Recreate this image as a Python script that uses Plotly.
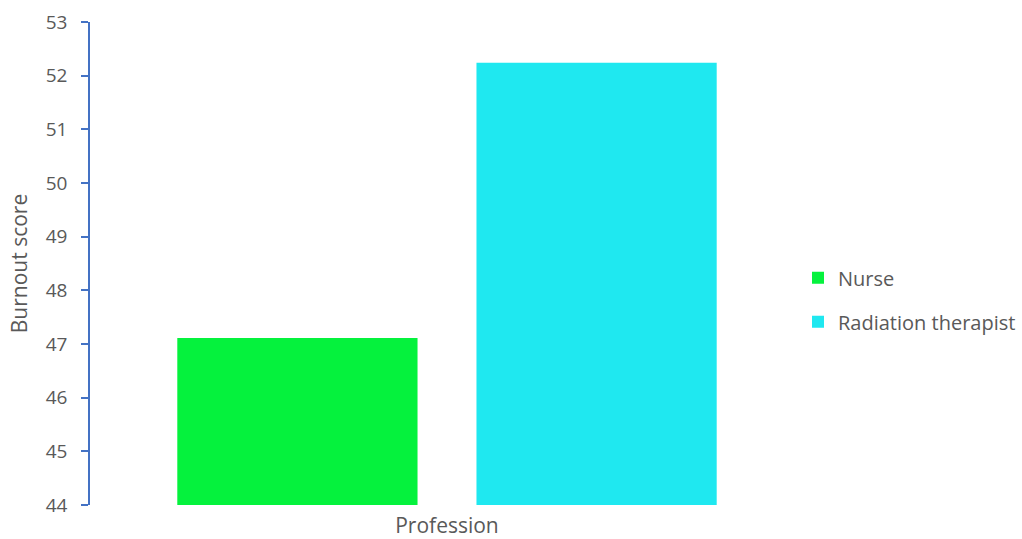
import plotly.graph_objects as go

# Burnout score by profession
category = ["Profession"]
professions = ["Nurse", "Radiation therapist"]
scores = [47.11, 52.24]
colors = ["#05F23D", "#1FE8F0"]

y_ticks = list(range(44, 54))

fig = go.Figure()
for name, val, col in zip(professions, scores, colors):
    fig.add_trace(go.Bar(
        x=category,
        y=[val],
        name=name,
        marker=dict(color=col, line=dict(width=0)),
        legendgroup=name,
    ))

text_color = "#595959"
axis_color = "#4472C4"
font_family = "Open Sans, Lato, sans-serif"

fig.update_layout(
    width=1022,
    height=539,
    paper_bgcolor="white",
    plot_bgcolor="white",
    barmode="group",
    bargap=0.162,
    bargroupgap=0.197,
    margin=dict(l=90, r=218, t=22, b=34, autoexpand=False),
    font=dict(family=font_family, color=text_color, size=20),
    showlegend=True,
    legend=dict(
        x=0.9916, xanchor="left",
        y=0.425, yanchor="middle",
        font=dict(size=20, color=text_color),
        tracegroupgap=15,
        itemwidth=30,
        bgcolor="rgba(0,0,0,0)",
    ),
    xaxis=dict(
        showline=False,
        showticklabels=False,
        ticks="",
        showgrid=False,
        title=dict(text="Profession", standoff=14, font=dict(size=21)),
    ),
    yaxis=dict(
        range=[44, 53],
        tickvals=y_ticks,
        showgrid=False,
        zeroline=False,
        showline=True,
        linecolor=axis_color,
        linewidth=1.5,
        ticks="outside",
        ticklen=7,
        tickcolor=axis_color,
        tickwidth=1.5,
        tickfont=dict(size=19),
        ticklabelstandoff=10,
        title=dict(text="Burnout score", standoff=12, font=dict(size=21)),
    ),
)

fig.write_html("out.html")
